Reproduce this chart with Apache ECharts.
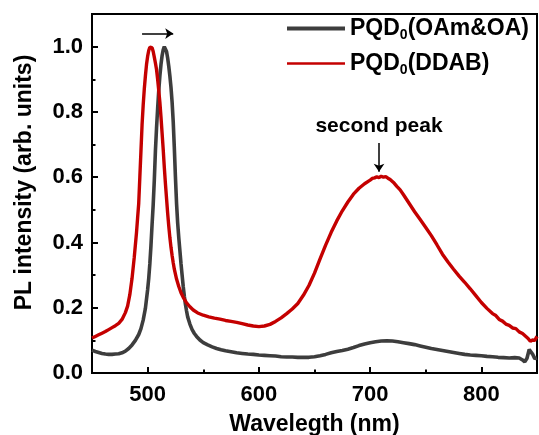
<!DOCTYPE html>
<html><head><meta charset="utf-8">
<script src="https://cdn.jsdelivr.net/npm/echarts@6/dist/echarts.min.js"></script>
<style>html,body{margin:0;padding:0;background:#fff}#c{width:539px;height:435px}</style>
</head><body><div id="c"></div>
<script>
const blackWl = [450,453,456,459,462,465,468,471,474,477,480,483,486,489,492,494,496,498,500,501,502,503,504,505,506,507,508,509,510,511,512,513,514,515,516,517,518,519,520,521,522,523,524,525,526,527,528,529,530,531,532,533,534,535,536,538,540,542,544,547,550,554,558,562,566,570,575,580,585,590,595,600,605,610,615,620,625,630,635,640,645,650,655,660,665,670,675,680,685,690,695,700,705,710,715,720,725,730,735,740,745,750,755,760,765,770,775,780,785,790,795,800,805,810,815,820,825,830,834,837,839,841,843,844,846,848,850];
const blackI = [0.070,0.066,0.063,0.060,0.058,0.057,0.057,0.058,0.059,0.062,0.067,0.075,0.086,0.100,0.118,0.136,0.162,0.198,0.255,0.29,0.335,0.39,0.455,0.515,0.59,0.68,0.75,0.81,0.865,0.91,0.945,0.972,0.99,1.0,0.998,0.985,0.965,0.94,0.91,0.875,0.83,0.77,0.69,0.6,0.52,0.46,0.415,0.375,0.335,0.3,0.265,0.235,0.21,0.19,0.172,0.15,0.133,0.121,0.112,0.101,0.093,0.086,0.080,0.075,0.071,0.068,0.065,0.062,0.060,0.058,0.057,0.055,0.054,0.053,0.052,0.050,0.049,0.049,0.048,0.048,0.048,0.050,0.053,0.057,0.062,0.066,0.069,0.073,0.078,0.084,0.089,0.093,0.096,0.098,0.099,0.098,0.096,0.093,0.090,0.087,0.083,0.079,0.075,0.072,0.069,0.066,0.063,0.060,0.057,0.055,0.054,0.053,0.051,0.050,0.048,0.047,0.046,0.047,0.046,0.040,0.034,0.045,0.072,0.078,0.058,0.044,0.046];
const redWl = [450,453,456,459,462,465,468,471,474,477,480,482,484,486,488,490,491,492,493,494,495,496,497,498,499,500,501,502,503,504,505,506,507,508,509,510,511,512,513,514,515,516,517,518,519,520,521,522,523,524,526,528,530,532,535,538,541,545,550,555,560,565,570,575,580,585,590,595,600,605,610,615,620,625,630,635,640,645,650,655,660,665,670,675,680,685,690,695,700,702,704,706,708,710,712,714,716,718,721,724,727,730,735,740,745,750,755,760,765,770,775,780,785,790,795,800,805,810,813,816,819,822,825,828,831,834,837,840,842,844,846,848,850];
const redI = [0.107,0.112,0.117,0.122,0.127,0.133,0.139,0.145,0.152,0.164,0.185,0.205,0.24,0.29,0.355,0.43,0.475,0.52,0.6,0.68,0.76,0.82,0.87,0.91,0.945,0.97,0.988,0.998,1.0,0.997,0.985,0.968,0.95,0.93,0.9,0.865,0.83,0.785,0.735,0.685,0.63,0.58,0.535,0.49,0.45,0.415,0.385,0.36,0.338,0.318,0.288,0.265,0.246,0.232,0.215,0.203,0.193,0.184,0.177,0.172,0.168,0.165,0.161,0.158,0.155,0.151,0.147,0.144,0.142,0.144,0.149,0.158,0.169,0.182,0.196,0.213,0.238,0.268,0.306,0.350,0.392,0.431,0.466,0.497,0.524,0.548,0.566,0.580,0.591,0.596,0.598,0.601,0.599,0.603,0.600,0.602,0.597,0.593,0.584,0.572,0.561,0.546,0.520,0.494,0.470,0.446,0.421,0.393,0.364,0.340,0.318,0.297,0.278,0.258,0.237,0.216,0.198,0.182,0.176,0.164,0.159,0.150,0.146,0.138,0.136,0.126,0.121,0.112,0.106,0.097,0.101,0.100,0.112];
const seriesNames = ['PQD0(OAm&OA)', 'PQD0(DDAB)'];
const xMajorTicks = [500, 600, 700, 800];
const xMinorTicks = [550, 650, 750];
const yMajorTicks = [0, 0.2, 0.4, 0.6, 0.8, 1.0];
const yMinorTicks = [0.1, 0.3, 0.5, 0.7, 0.9];
const xTitle = 'Wavelegth (nm)';
const yTitle = 'PL intensity (arb. units)';
const peakText = 'second peak';

const F = '"Liberation Sans", Arial, Helvetica, sans-serif';
const zip = (a, b) => a.map((v, i) => [v, b[i]]);
const chart = echarts.init(document.getElementById('c'), null, {renderer: 'canvas'});

const axisCommon = {
  type: 'value', min: 450, max: 850, interval: 50,
  splitLine: {show: false}
};
const noMarker = {color: 'rgba(0,0,0,0)', borderColor: 'rgba(0,0,0,0)', borderWidth: 0, opacity: 0};
chart.setOption({
  animation: false,
  backgroundColor: '#fff',
  grid: {left: 92, right: 2, top: 14, bottom: 62, show: true, borderColor: '#000', borderWidth: 2, containLabel: false, outerBoundsMode: 'none'},
  legend: {
    orient: 'vertical', left: 285, top: 15, padding: 0, itemGap: 8,
    itemWidth: 58, itemHeight: 14,
    itemStyle: noMarker,
    data: [
      {name: seriesNames[0], itemStyle: noMarker, lineStyle: {color: '#3d3d3d', width: 4}},
      {name: seriesNames[1], itemStyle: noMarker, lineStyle: {color: '#c40000', width: 2.5}}
    ],
    formatter: n => '{a|PQD}{s|0}{a|' + n.slice(4) + '}',
    textStyle: {
      rich: {
        a: {fontFamily: F, fontSize: 23, fontWeight: 'bold', color: '#000', lineHeight: 24},
        s: {fontFamily: F, fontSize: 14, fontWeight: 'bold', color: '#000', lineHeight: 14, padding: [13, 0, 0, 0]}
      }
    }
  },
  xAxis: [
    Object.assign({}, axisCommon, {
      position: 'bottom',
      name: xTitle, nameLocation: 'middle', nameGap: 40, nameMoveOverlap: false,
      nameTextStyle: {fontFamily: F, fontSize: 23, fontWeight: 'bold', color: '#000'},
      axisLine: {show: true, lineStyle: {color: '#000', width: 2}},
      axisTick: {show: true, inside: true, length: 6, lineStyle: {color: '#000', width: 2}, customValues: xMajorTicks},
      axisLabel: {show: true, margin: 11, fontFamily: F, fontSize: 22, fontWeight: 'bold', color: '#000', customValues: xMajorTicks}
    }),
    Object.assign({}, axisCommon, {
      position: 'bottom',
      axisLine: {show: false},
      axisTick: {show: true, inside: true, length: 3.5, lineStyle: {color: '#000', width: 2}, customValues: xMinorTicks},
      axisLabel: {show: false}
    })
  ],
  yAxis: [
    {
      type: 'value', min: 0, max: 1.1, interval: 0.2, position: 'left',
      splitLine: {show: false},
      name: yTitle, nameLocation: 'middle', nameGap: 56, nameMoveOverlap: false,
      nameTextStyle: {fontFamily: F, fontSize: 23, fontWeight: 'bold', color: '#000', padding: [0, 0, 0, 22]},
      axisLine: {show: true, lineStyle: {color: '#000', width: 2}},
      axisTick: {show: true, inside: true, length: 6, lineStyle: {color: '#000', width: 2}, customValues: yMajorTicks},
      axisLabel: {show: true, margin: 9, fontFamily: F, fontSize: 22, fontWeight: 'bold', color: '#000', customValues: yMajorTicks, formatter: v => v.toFixed(1)}
    },
    {
      type: 'value', min: 0, max: 1.1, interval: 0.2, position: 'left',
      splitLine: {show: false},
      axisLine: {show: false},
      axisTick: {show: true, inside: true, length: 3.5, lineStyle: {color: '#000', width: 2}, customValues: yMinorTicks},
      axisLabel: {show: false}
    }
  ],
  series: [
    {
      name: seriesNames[0], type: 'line', xAxisIndex: 0, yAxisIndex: 0,
      data: zip(blackWl, blackI), symbol: 'none', smooth: false,
      lineStyle: {color: '#3d3d3d', width: 3.6}, itemStyle: {color: '#3d3d3d'},
      z: 2,
      markLine: {
        silent: true, symbol: ['none', 'arrow'], symbolSize: 8,
        label: {show: false},
        lineStyle: {color: '#000', width: 1.5, type: 'solid'},
        data: [
          [{coord: [495, 1.04]}, {coord: [523, 1.04]}],
          [{coord: [708, 0.705]}, {coord: [708, 0.617]}]
        ]
      },
      markPoint: {
        silent: true, symbol: 'rect', symbolSize: 1, itemStyle: {color: 'rgba(0,0,0,0)'},
        label: {show: true, position: 'inside', formatter: peakText, fontFamily: F, fontSize: 21, fontWeight: 'bold', color: '#000'},
        data: [{coord: [708, 0.755]}]
      }
    },
    {
      name: seriesNames[1], type: 'line', xAxisIndex: 0, yAxisIndex: 0,
      data: zip(redWl, redI), symbol: 'none', smooth: false,
      lineStyle: {color: '#c40000', width: 3.4}, itemStyle: {color: '#c40000'},
      z: 3
    }
  ]
});
</script></body></html>
